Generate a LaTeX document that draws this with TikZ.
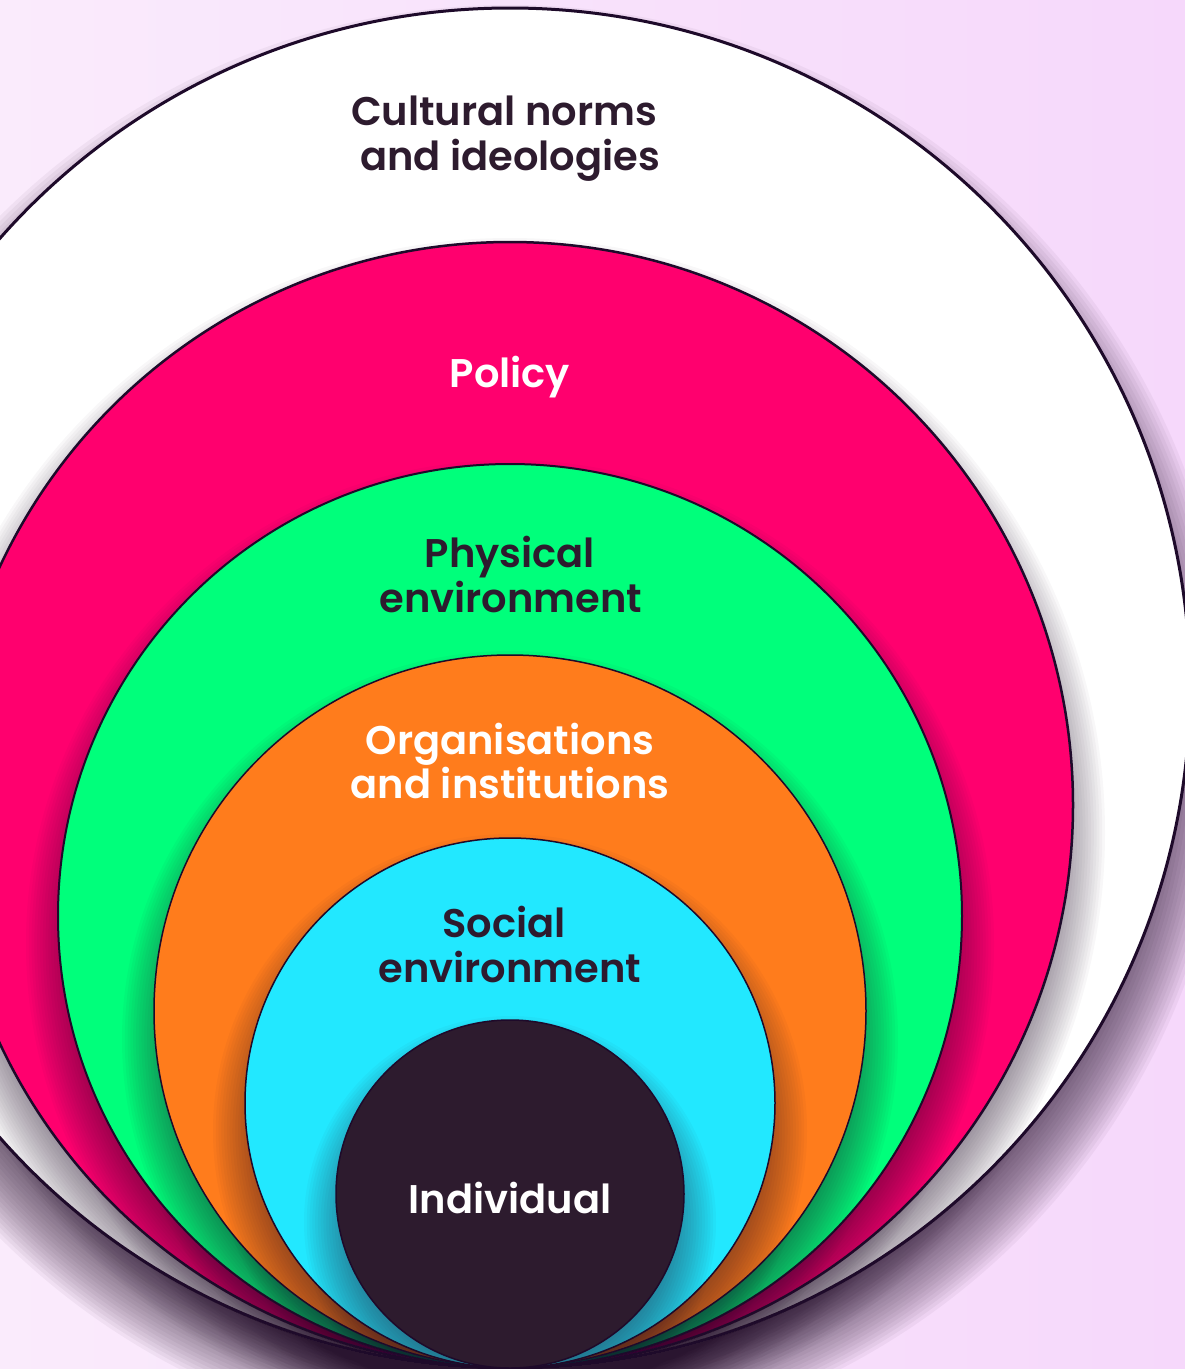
\documentclass[tikz,border=0pt]{standalone}
\usepackage{fontspec}
\setmainfont{Poppins}[BoldFont={Poppins SemiBold}]
\definecolor{bgL}{HTML}{FAEBFC}
\definecolor{bgR}{HTML}{F6D8FB}
\definecolor{edge}{HTML}{1E0A2A}
\definecolor{cpink}{HTML}{FF006E}
\definecolor{cgreen}{HTML}{00FF7B}
\definecolor{corange}{HTML}{FF7C1C}
\definecolor{ccyan}{HTML}{22E8FF}
\definecolor{cdark}{HTML}{2D1B2E}
\definecolor{ink}{HTML}{2D1B2E}
\definecolor{shcol}{HTML}{2A1530}
% soft shadow: centre x, centre y, radius, blur, opacity per layer
\newcommand\stackshadow[5]{%
  \foreach \k in {0,...,23}{%
    \fill[shcol, opacity=#5] (#1,#2) circle[radius={#3-#4+2*#4*\k/23}];}}
\begin{document}
\begin{tikzpicture}[x=1pt,y=-1pt,
  ring/.style={circle, draw=edge, inner sep=0pt, outer sep=0pt},
  lbl/.style={font=\fontsize{40}{45}\selectfont\bfseries, anchor=base, inner sep=0pt},
  dk/.style={lbl, text=ink},
  wt/.style={lbl, text=white},
]
\useasboundingbox (0,0) rectangle (1185,1369);
\shade[left color=bgL, right color=bgR] (0,0) rectangle (1185,1369);
% white
\stackshadow{510}{727}{680}{42}{0.049}
\node[ring, fill=white, line width=3pt, minimum size=1360pt] (cult) at (510,688) {};
% pink
\stackshadow{510}{833}{563}{32}{0.033}
\node[ring, fill=cpink, line width=2.5pt, minimum size=1126pt] (pol) at (510,805) {};
% green
\stackshadow{510}{944}{452}{32}{0.033}
\node[ring, fill=cgreen, line width=2pt, minimum size=904pt] (phys) at (510,916) {};
% orange
\stackshadow{510}{1039}{356}{32}{0.033}
\node[ring, fill=corange, line width=1.5pt, minimum size=712pt] (org) at (510,1011) {};
% cyan
\stackshadow{510}{1131}{265}{32}{0.033}
\node[ring, fill=ccyan, line width=1.5pt, minimum size=530pt] (soc) at (510,1103) {};
% dark
\stackshadow{510}{1222}{174}{32}{0.033}
\node[ring, fill=cdark, line width=1.5pt, minimum size=348pt] (ind) at (510,1194) {};
\node[dk] (cultA) at (504,125) {Cultural norms};
\node[dk] (cultB) at (510,170) {and ideologies};
\node[wt] (polA) at (510,387) {Policy};
\node[dk] (physA) at (510,567) {Physical};
\node[dk] (physB) at (511,612) {environment};
\node[wt] (orgA) at (510,754) {Organisations};
\node[wt] (orgB) at (510,798) {and institutions};
\node[dk] (socA) at (504,937) {Social};
\node[dk] (socB) at (510,982) {environment};
\node[wt] (indA) at (510,1213) {Individual};
\end{tikzpicture}
\end{document}
